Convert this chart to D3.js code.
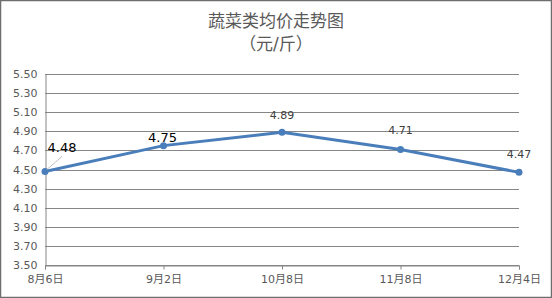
<!DOCTYPE html>
<html>
<head>
<meta charset="utf-8">
<script src="https://cdn.jsdelivr.net/npm/d3@7"></script>
<style>
body{margin:0;background:#fff;}
text{font-family:"DejaVu Sans","Noto Sans CJK SC",sans-serif;}
</style>
</head>
<body>
<script>
var width=552;
var height=298;
var margin={top:74,right:33,bottom:33,left:45};
var dates=["8月6日","9月2日","10月8日","11月8日","12月4日"];
var prices=[4.48,4.75,4.89,4.71,4.47];
var yTicks=[3.5,3.7,3.9,4.1,4.3,4.5,4.7,4.9,5.1,5.3,5.5];

var svg=d3.select("body").append("svg").attr("width",width).attr("height",height);

svg.append("rect").attr("x",0.5).attr("y",0.5).attr("width",width-1).attr("height",height-1)
    .attr("fill","#fff").attr("stroke","#6e6e6e").attr("stroke-width",1.5);

svg.append("text").attr("x",276).attr("y",27).attr("text-anchor","middle")
    .attr("font-size","17px").attr("fill","#595959").text("蔬菜类均价走势图");
svg.append("text").attr("x",276).attr("y",50).attr("text-anchor","middle")
    .attr("font-size","17px").attr("fill","#595959").text("（元/斤）");

var x=d3.scalePoint().domain(dates).range([margin.left,width-margin.right]);
var y=d3.scaleLinear().domain([3.5,5.5]).range([height-margin.bottom,margin.top]);

// gridlines
svg.append("g").selectAll("line").data(yTicks).enter().append("line")
    .attr("x1",margin.left).attr("x2",width-margin.right)
    .attr("y1",function(d){return Math.round(y(d))+0.5;})
    .attr("y2",function(d){return Math.round(y(d))+0.5;})
    .attr("stroke","#868686").attr("stroke-width",1);

// y axis
var yAxis=svg.append("g").attr("transform","translate("+(margin.left+0.5)+",0)")
    .call(d3.axisLeft(y).tickValues(yTicks).tickFormat(d3.format(".2f")).tickSize(0).tickPadding(8));
yAxis.select(".domain").attr("stroke","#868686");
yAxis.selectAll("text").attr("font-size","11px").attr("fill","#595959").attr("font-family","DejaVu Sans");

// x axis
var xAxis=svg.append("g").attr("transform","translate(0,"+(Math.round(y(3.5))+0.5)+")")
    .call(d3.axisBottom(x).tickSize(4).tickPadding(6));
xAxis.select(".domain").attr("stroke","#868686");
xAxis.selectAll("line").attr("stroke","#868686");
xAxis.selectAll("text").attr("font-size","11px").attr("fill","#595959");

// line
var line=d3.line().x(function(d,i){return x(dates[i]);}).y(function(d){return y(d);});
svg.append("path").datum(prices).attr("d",line).attr("fill","none")
    .attr("stroke","#4a7ebb").attr("stroke-width",3);
svg.append("g").selectAll("circle").data(prices).enter().append("circle")
    .attr("cx",function(d,i){return x(dates[i]);})
    .attr("cy",function(d){return y(d);})
    .attr("r",3.5).attr("fill","#4a7ebb");

// labels
var labelDx=[17,-1,0,0,0];
var labelDy=[-19,-4,-13,-15,-14];
var labelColor=["#000","#000","#404040","#404040","#404040"];
var labelSize=["13px","13px","11px","11px","11px"];
svg.append("line").attr("x1",x(dates[0])+2).attr("y1",y(prices[0])-2)
    .attr("x2",x(dates[0])+17).attr("y2",y(prices[0])-15)
    .attr("stroke","#bfbfbf").attr("stroke-width",1);
svg.append("g").selectAll("text").data(prices).enter().append("text")
    .attr("x",function(d,i){return x(dates[i])+labelDx[i];})
    .attr("y",function(d,i){return y(d)+labelDy[i];})
    .attr("text-anchor","middle")
    .attr("font-size",function(d,i){return labelSize[i];})
    .attr("fill",function(d,i){return labelColor[i];})
    .text(function(d){return d.toFixed(2);});
</script>
</body>
</html>
